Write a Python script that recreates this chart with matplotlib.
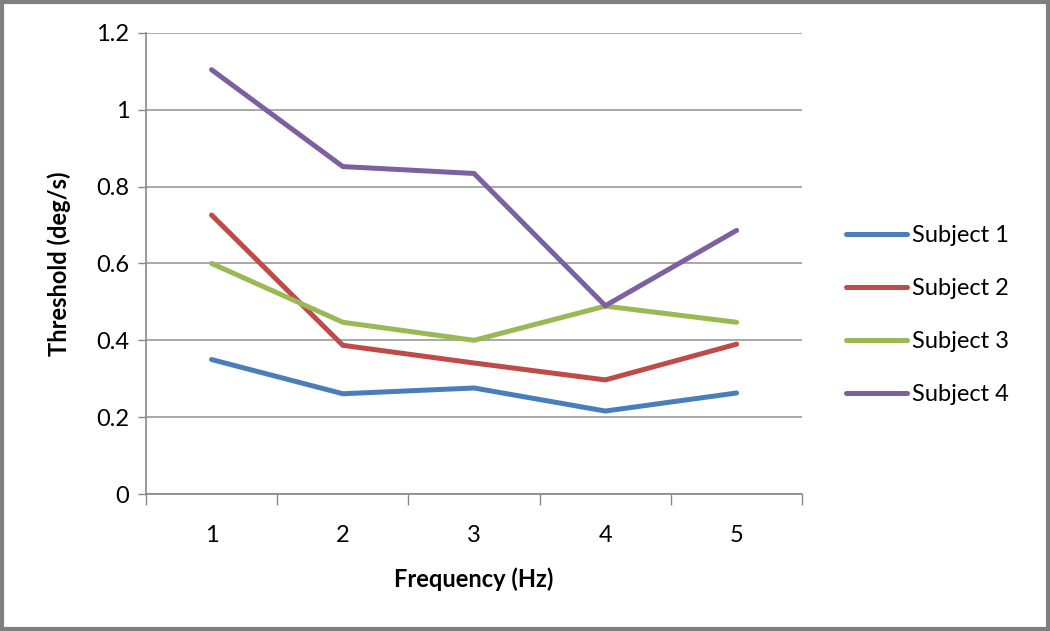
import matplotlib.pyplot as plt
from matplotlib.patches import Rectangle

plt.rcParams['font.family'] = ['Lato', 'DejaVu Sans']

# data
freq = [1, 2, 3, 4, 5]
subject1 = [0.350, 0.261, 0.276, 0.216, 0.263]
subject2 = [0.726, 0.387, 0.341, 0.297, 0.390]
subject3 = [0.600, 0.447, 0.400, 0.489, 0.447]
subject4 = [1.104, 0.852, 0.834, 0.490, 0.686]
names = ['Subject 1', 'Subject 2', 'Subject 3', 'Subject 4']
colors = ['#4A7EBB', '#BE4B48', '#98B954', '#7D60A0']
yticks = [0, 0.2, 0.4, 0.6, 0.8, 1, 1.2]
ytick_labels = ['0', '0.2', '0.4', '0.6', '0.8', '1', '1.2']

fig = plt.figure(figsize=(10.5, 6.31), dpi=100)
ax = fig.add_axes([0.139, 0.217, 0.625, 0.731])

series = [subject1, subject2, subject3, subject4]
for vals, name, c in zip(series, names, colors):
    ax.plot(freq, vals, color=c, lw=3.6, label=name, solid_capstyle='round',
            solid_joinstyle='miter')

ax.set_xlim(0.5, 5.5)
ax.set_ylim(0, 1.2)
ax.set_yticks(yticks)
ax.set_yticklabels(ytick_labels)
ax.set_xticks(freq)
ax.set_xticklabels([str(f) for f in freq])
ax.set_xticks([0.5, 1.5, 2.5, 3.5, 4.5, 5.5], minor=True)
ax.tick_params(axis='x', which='major', length=0, pad=22, labelsize=17)
ax.tick_params(axis='x', which='minor', length=8, color='#888888', width=1)
ax.tick_params(axis='y', length=6, color='#888888', width=1, labelsize=17, pad=6)

ax.grid(axis='y', color='#999999', lw=1.2)
ax.set_axisbelow(True)
for s in ['top', 'right']:
    ax.spines[s].set_visible(False)
for s in ['left', 'bottom']:
    ax.spines[s].set_color('#888888')
    ax.spines[s].set_linewidth(1.2)

ax.set_xlabel('Frequency (Hz)', fontsize=17, fontweight='bold', labelpad=16)
ax.set_ylabel('Threshold (deg/s)', fontsize=17, fontweight='bold', labelpad=18)

ax.legend(loc='center left', bbox_to_anchor=(1.034, 0.388), frameon=False,
          fontsize=17, handlelength=2.6, handletextpad=0.2, labelspacing=1.35)

# grey frame around the chart
fig.patches.append(Rectangle((0.0015, 0.0025), 0.997, 0.995, transform=fig.transFigure,
                             fill=False, edgecolor='#7f7f7f', lw=3))

fig.savefig('out.png', dpi=100)
